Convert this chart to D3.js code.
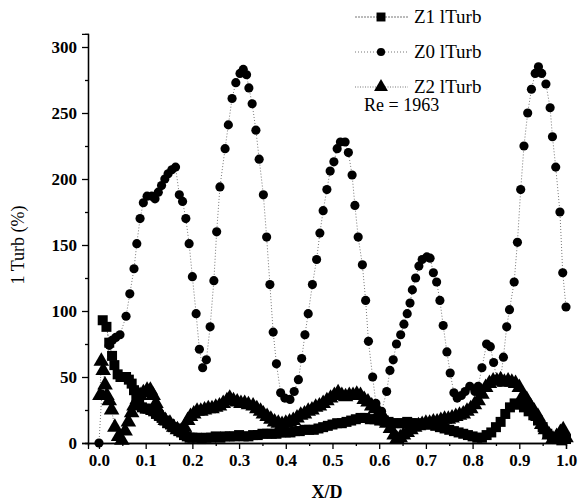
<!DOCTYPE html>
<html>
<head>
<meta charset="utf-8">
<script src="https://cdn.jsdelivr.net/npm/d3@7"></script>
<style>
  body { margin: 0; background: #fff; }
  svg { display: block; }
</style>
</head>
<body>
<svg></svg>
<script>
const WIDTH = 583;
const HEIGHT = 502;
const SERIF = '"Liberation Serif", "Times New Roman", "DejaVu Serif", serif';

// series names as in the legend
var seriesNames = ['Z1 lTurb', 'Z0 lTurb', 'Z2 lTurb'];
var note = 'Re = 1963';

var xTicks = [0, 0.1, 0.2, 0.3, 0.4, 0.5, 0.6, 0.7, 0.8, 0.9, 1.0];
var yTicks = [0, 50, 100, 150, 200, 250, 300];

// Z0 lTurb (circles) [X/D, %]
var z0 = [[0,0],[0.006,37],[0.022,74],[0.029,78],[0.036,80],[0.045,82],
  [0.058,96],[0.066,113],[0.075,132],[0.081,151],[0.088,170],[0.095,182],[0.103,187],[0.113,187],
  [0.12,185],[0.127,190],[0.134,195],[0.141,200],[0.148,204],[0.156,207],[0.164,209],
  [0.172,188],[0.179,183],[0.186,170],[0.193,151],[0.2,126],[0.208,98],[0.215,71],[0.222,57],
  [0.23,63],[0.238,88],[0.246,123],[0.252,160],[0.259,194],[0.27,223],[0.277,241],[0.285,261],
  [0.293,273],[0.302,280],[0.309,283],[0.316,279],[0.321,269],[0.328,257],[0.336,237],[0.343,215],
  [0.352,188],[0.359,156],[0.366,120],[0.373,84],[0.38,60],[0.389,38],[0.398,34],[0.409,33],
  [0.418,39],[0.427,48],[0.434,64],[0.441,82],[0.448,98],[0.457,120],[0.466,139],[0.473,159],
  [0.48,176],[0.488,192],[0.495,206],[0.503,213],[0.51,223],[0.517,228],[0.527,228],[0.534,220],
  [0.542,203],[0.548,180],[0.555,156],[0.564,135],[0.571,108],[0.577,77],[0.586,50],[0.593,30],
  [0.605,24],[0.616,39],[0.623,55],[0.63,63],[0.637,75],[0.646,82],[0.653,90],[0.66,98],
  [0.666,106],[0.671,116],[0.678,125],[0.685,134],[0.692,139],[0.702,141],[0.709,140],[0.716,129],
  [0.723,122],[0.73,108],[0.737,89],[0.745,69],[0.752,53],[0.76,38],[0.767,34],[0.776,36],
  [0.784,39],[0.794,43],[0.805,39],[0.812,43],[0.82,57],[0.83,75],[0.838,73],[0.845,61],
  [0.852,48],[0.859,46],[0.866,65],[0.873,88],[0.879,101],[0.889,122],[0.896,152],[0.903,192],
  [0.91,225],[0.918,250],[0.926,268],[0.934,280],[0.941,285],[0.948,280],[0.957,272],[0.966,254],
  [0.971,232],[0.978,209],[0.987,175],[0.993,129],[1.0,103]];

// Z1 lTurb (squares)
var z1 = [[0.008,93],[0.016,88],[0.022,76],[0.028,66],[0.033,59],[0.04,52],[0.046,50],[0.052,50],
  [0.058,50],[0.064,48],[0.07,45],[0.075,40],[0.08,35],[0.086,30],[0.092,27],[0.098,26],[0.104,26],
  [0.11,25],[0.116,24],[0.122,22],[0.128,21],[0.134,19],[0.14,17],[0.146,15],[0.152,14],[0.158,12],
  [0.164,11],[0.17,9],[0.176,8],[0.182,6],[0.188,5],[0.194,4],[0.2,4],[0.21,4],[0.22,3],[0.23,4],
  [0.24,4],[0.25,5],[0.26,4],[0.27,5],[0.28,5],[0.29,5],[0.3,6],[0.31,5],[0.32,5],[0.33,6],
  [0.34,6],[0.35,7],[0.36,7],[0.37,7],[0.38,7],[0.39,8],[0.4,8],[0.41,8],[0.42,9],[0.43,9],
  [0.44,10],[0.45,10],[0.46,10],[0.47,11],[0.48,12],[0.49,13],[0.5,14],[0.51,15],[0.52,15],
  [0.53,16],[0.54,17],[0.55,18],[0.56,19],[0.57,19],[0.58,18],[0.59,18],[0.6,17],[0.61,17],
  [0.62,16],[0.63,15],[0.64,15],[0.65,15],[0.66,16],[0.67,15],[0.68,15],[0.69,14],[0.7,14],
  [0.71,14],[0.72,13],[0.73,12],[0.74,11],[0.75,10],[0.76,9],[0.77,8],[0.78,7],[0.79,6],[0.8,5],
  [0.81,4],[0.82,4],[0.83,6],[0.84,8],[0.85,12],[0.86,16],[0.87,22],[0.88,27],[0.89,30],[0.9,29],
  [0.91,27],[0.92,24],[0.93,21],[0.94,17],[0.95,12],[0.96,7],[0.97,4],[0.98,3],[0.99,2],[1.0,3]];

// Z2 lTurb (triangles)
var z2 = [[0.002,36],[0.005,62],[0.009,55],[0.013,44],[0.017,36],[0.022,32],[0.027,25],[0.034,12],
  [0.042,5],[0.049,2],[0.056,9],[0.063,16],[0.07,23],[0.075,28],[0.082,33],[0.088,36],[0.095,38],
  [0.103,40],[0.11,40],[0.116,36],[0.122,30],[0.128,24],[0.134,20],[0.142,17],[0.152,15],[0.16,12],
  [0.168,10],[0.176,9],[0.183,12],[0.19,17],[0.196,20],[0.203,22],[0.21,24],[0.218,24],[0.226,25],
  [0.234,26],[0.242,26],[0.25,27],[0.258,28],[0.266,30],[0.274,32],[0.28,34],[0.288,32],[0.296,31],
  [0.304,30],[0.312,30],[0.32,29],[0.33,28],[0.338,26],[0.346,24],[0.352,22],[0.36,20],[0.368,18],
  [0.376,16],[0.384,15],[0.392,14],[0.4,15],[0.408,16],[0.416,17],[0.424,19],[0.432,21],[0.44,22],
  [0.448,24],[0.456,25],[0.464,27],[0.472,28],[0.48,30],[0.488,32],[0.496,34],[0.504,36],[0.512,38],
  [0.52,36],[0.528,35],[0.536,36],[0.544,36],[0.552,37],[0.56,36],[0.568,33],[0.576,31],[0.584,28],
  [0.592,26],[0.6,23],[0.608,20],[0.616,15],[0.624,11],[0.632,6],[0.638,3],[0.645,4],[0.652,6],
  [0.66,8],[0.668,10],[0.676,12],[0.684,13],[0.692,14],[0.7,15],[0.708,15],[0.716,16],[0.724,16],
  [0.732,17],[0.74,18],[0.748,18],[0.756,19],[0.764,20],[0.772,21],[0.78,22],[0.788,24],[0.796,26],
  [0.804,29],[0.812,32],[0.82,37],[0.828,42],[0.836,45],[0.844,47],[0.852,47],[0.86,48],[0.868,46],
  [0.876,47],[0.884,46],[0.892,45],[0.9,42],[0.908,36],[0.916,33],[0.924,28],[0.932,24],[0.94,20],
  [0.948,14],[0.956,10],[0.964,6],[0.972,3],[0.98,5],[0.988,8],[0.994,10],[1.0,4]];

var svg = d3.select('svg')
    .attr('width', WIDTH)
    .attr('height', HEIGHT);

var xScale = d3.scaleLinear().domain([-0.0235, 1.0]).range([88, 566]);
var yScale = d3.scaleLinear().domain([0, 310]).range([443, 443 - 310 * 1.32]);

// minor ticks first, then major ticks with labels
var xMinor = d3.axisBottom(xScale).tickValues(d3.range(0.05, 1.0, 0.1)).tickSize(3).tickFormat('');
svg.append('g').attr('transform', 'translate(0,443)').call(xMinor);
var xAxis = d3.axisBottom(xScale).tickValues(xTicks).tickSize(6).tickPadding(5).tickFormat(d3.format('.1f'));
var gx = svg.append('g').attr('transform', 'translate(0,443)').call(xAxis);

var yMinor = d3.axisLeft(yScale).tickValues([25, 75, 125, 175, 225, 275]).tickSize(3).tickFormat('');
svg.append('g').attr('transform', 'translate(88,0)').call(yMinor);
var yAxis = d3.axisLeft(yScale).tickValues(yTicks).tickSize(6).tickPadding(5);
var gy = svg.append('g').attr('transform', 'translate(88,0)').call(yAxis);

[gx, gy].forEach(function(g) {
  g.attr('font-family', SERIF).attr('font-size', 17);
  g.selectAll('text').attr('font-weight', 'bold').attr('fill', '#000');
});
svg.selectAll('.domain, .tick line').attr('stroke', '#000').attr('stroke-width', 1.3);

// axis titles
svg.append('text').attr('x', 327).attr('y', 498).attr('text-anchor', 'middle')
    .attr('font-family', SERIF).attr('font-size', 18).attr('font-weight', 'bold').text('X/D');
svg.append('text').attr('transform', 'translate(24,245) rotate(-90)').attr('text-anchor', 'middle')
    .attr('font-family', SERIF).attr('font-size', 18).text('1 Turb (%)');

var series = [
  { name: seriesNames[0], data: z1, symbol: d3.symbolSquare, size: 100, dash: '2,1' },
  { name: seriesNames[1], data: z0, symbol: d3.symbolCircle, size: 66, dash: '1,2' },
  { name: seriesNames[2], data: z2, symbol: d3.symbolTriangle, size: 105, dash: '1,1.5' }
];

var line = d3.line()
    .x(function(d) { return xScale(d[0]); })
    .y(function(d) { return yScale(d[1]); });

// connecting dotted lines
series.forEach(function(s) {
  svg.append('path').datum(s.data)
      .attr('d', line)
      .attr('fill', 'none')
      .attr('stroke', '#777')
      .attr('stroke-width', 1)
      .attr('stroke-dasharray', s.dash);
});

// markers
series.forEach(function(s) {
  svg.append('g').selectAll('path')
      .data(s.data)
      .enter()
      .append('path')
      .attr('d', d3.symbol().type(s.symbol).size(s.size))
      .attr('transform', function(d) { return 'translate(' + xScale(d[0]) + ',' + yScale(d[1]) + ')'; })
      .attr('fill', '#000');
});

// legend
var legend = svg.append('g').attr('font-family', SERIF).attr('font-size', 19);
series.forEach(function(s, i) {
  var y = 17 + i * 35;
  legend.append('line').attr('x1', 355).attr('x2', 408).attr('y1', y).attr('y2', y)
      .attr('stroke', '#777').attr('stroke-width', 1).attr('stroke-dasharray', s.dash);
  legend.append('path').attr('d', d3.symbol().type(s.symbol).size(s.size * 0.8)())
      .attr('transform', 'translate(381,' + y + ')').attr('fill', '#000');
  legend.append('text').attr('x', 414).attr('y', y + 6).text(s.name);
});
legend.append('text').attr('x', 364).attr('y', 111).attr('font-size', 18).text(note);
</script>
</body>
</html>
